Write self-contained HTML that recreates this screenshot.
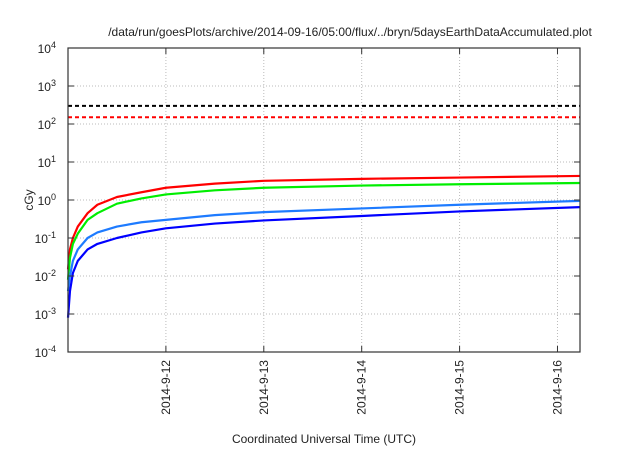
<!DOCTYPE html>
<html><head><meta charset="utf-8"><style>
body{margin:0;background:#fff;font-family:"Liberation Sans",sans-serif}
svg text{font-family:"Liberation Sans",sans-serif;fill:#222}
</style></head><body>
<svg width="640" height="448" id="c">
<text x="350" y="36" font-size="12" text-anchor="middle">/data/run/goesPlots/archive/2014-09-16/05:00/flux/../bryn/5daysEarthDataAccumulated.plot</text>
<text x="33" y="200" font-size="12" text-anchor="middle" transform="rotate(-90 33 200)">cGy</text>
<text x="324" y="443" font-size="12" text-anchor="middle">Coordinated Universal Time (UTC)</text>
<g id="grid"></g><g id="marks"></g><g id="axes"></g>
</svg>
<script>
const xTickLabels=["2014-9-12","2014-9-13","2014-9-14","2014-9-15","2014-9-16"];
const xTickDays=[1,2,3,4,5];
const yTickExps=[-4,-3,-2,-1,0,1,2,3,4];
const tDays=[0,0.02,0.05,0.1,0.2,0.3,0.5,0.75,1,1.5,2,3,4,5.23];
const redVals=[0.015,0.05,0.1,0.2,0.45,0.75,1.2,1.6,2.1,2.7,3.2,3.6,3.9,4.3];
const greenVals=[0.008,0.03,0.07,0.13,0.3,0.45,0.8,1.1,1.4,1.8,2.1,2.4,2.6,2.8];
const lblueVals=[0.004,0.01,0.025,0.05,0.1,0.14,0.2,0.26,0.3,0.4,0.48,0.6,0.75,0.95];
const dblueVals=[0.0008,0.004,0.012,0.025,0.05,0.07,0.1,0.14,0.18,0.24,0.29,0.38,0.5,0.65];
const blackLimit=300, redLimit=150;
const L=68,R=580,T=48,B=352,D0=0,D1=5.23;
const x=d=>L+(d-D0)/(D1-D0)*(R-L);
const y=v=>B-(Math.log10(v)+4)/8*(B-T);
const NS="http://www.w3.org/2000/svg";
function mk(tag,attrs,parent){const e=document.createElementNS(NS,tag);for(const k in attrs)e.setAttribute(k,attrs[k]);document.getElementById(parent).appendChild(e);return e;}
xTickDays.forEach((d,i)=>{
 const g=mk("line",{x1:x(d),x2:x(d),y1:T,y2:B,stroke:"#bbb","stroke-dasharray":"1,2"},"grid");
 
 
 const t1=mk("line",{x1:x(d),x2:x(d),y1:B,y2:B-6,stroke:"#333"},"axes");
 
 
 const t2=mk("line",{x1:x(d),x2:x(d),y1:T,y2:T+6,stroke:"#333"},"axes");
 
 
 const tx=mk("text",{x:x(d)+4,y:360,"font-size":"12","text-anchor":"end",transform:`rotate(-90 ${x(d)+4} 360)`},"axes");
 tx.textContent=xTickLabels[i];
 
 
});
yTickExps.forEach(e=>{
 const v=Math.pow(10,e),yy=y(v);
 if(e>-4&&e<4){const g=mk("line",{x1:L,x2:R,y1:yy,y2:yy,stroke:"#bbb","stroke-dasharray":"1,2"},"grid");
 
 }
 const t1=mk("line",{x1:L,x2:L+6,y1:yy,y2:yy,stroke:"#333"},"axes");
 
 
 const t2=mk("line",{x1:R,x2:R-6,y1:yy,y2:yy,stroke:"#333"},"axes");
 
 
 const tx=mk("text",{x:56,y:yy+5,"font-size":"12","text-anchor":"end"},"axes");
 tx.innerHTML="10<tspan dy='-5' font-size='9'>"+e+"</tspan>";
 
 
});
const fr=mk("rect",{x:L,y:T,width:R-L,height:B-T,fill:"none",stroke:"#333","stroke-width":"1.2"},"axes");


[[blackLimit,"#000","black-limit-line"],[redLimit,"#f00","red-limit-line"]].forEach(([v,c,n])=>{
 const l=mk("line",{x1:L,x2:R,y1:y(v),y2:y(v),stroke:c,"stroke-width":"2","stroke-dasharray":"4,3"},"marks");
 
 
});
[[redVals,"#f00","red-series"],[greenVals,"#0e0","green-series"],[lblueVals,"#1e7bff","light-blue-series"],[dblueVals,"#00f","dark-blue-series"]].forEach(([vals,c,n])=>{
 const p=mk("polyline",{points:tDays.map((d,i)=>x(d)+","+y(vals[i])).join(" "),fill:"none",stroke:c,"stroke-width":"2.2","stroke-linejoin":"round"},"marks");
 
 
});
</script>
</body></html>
